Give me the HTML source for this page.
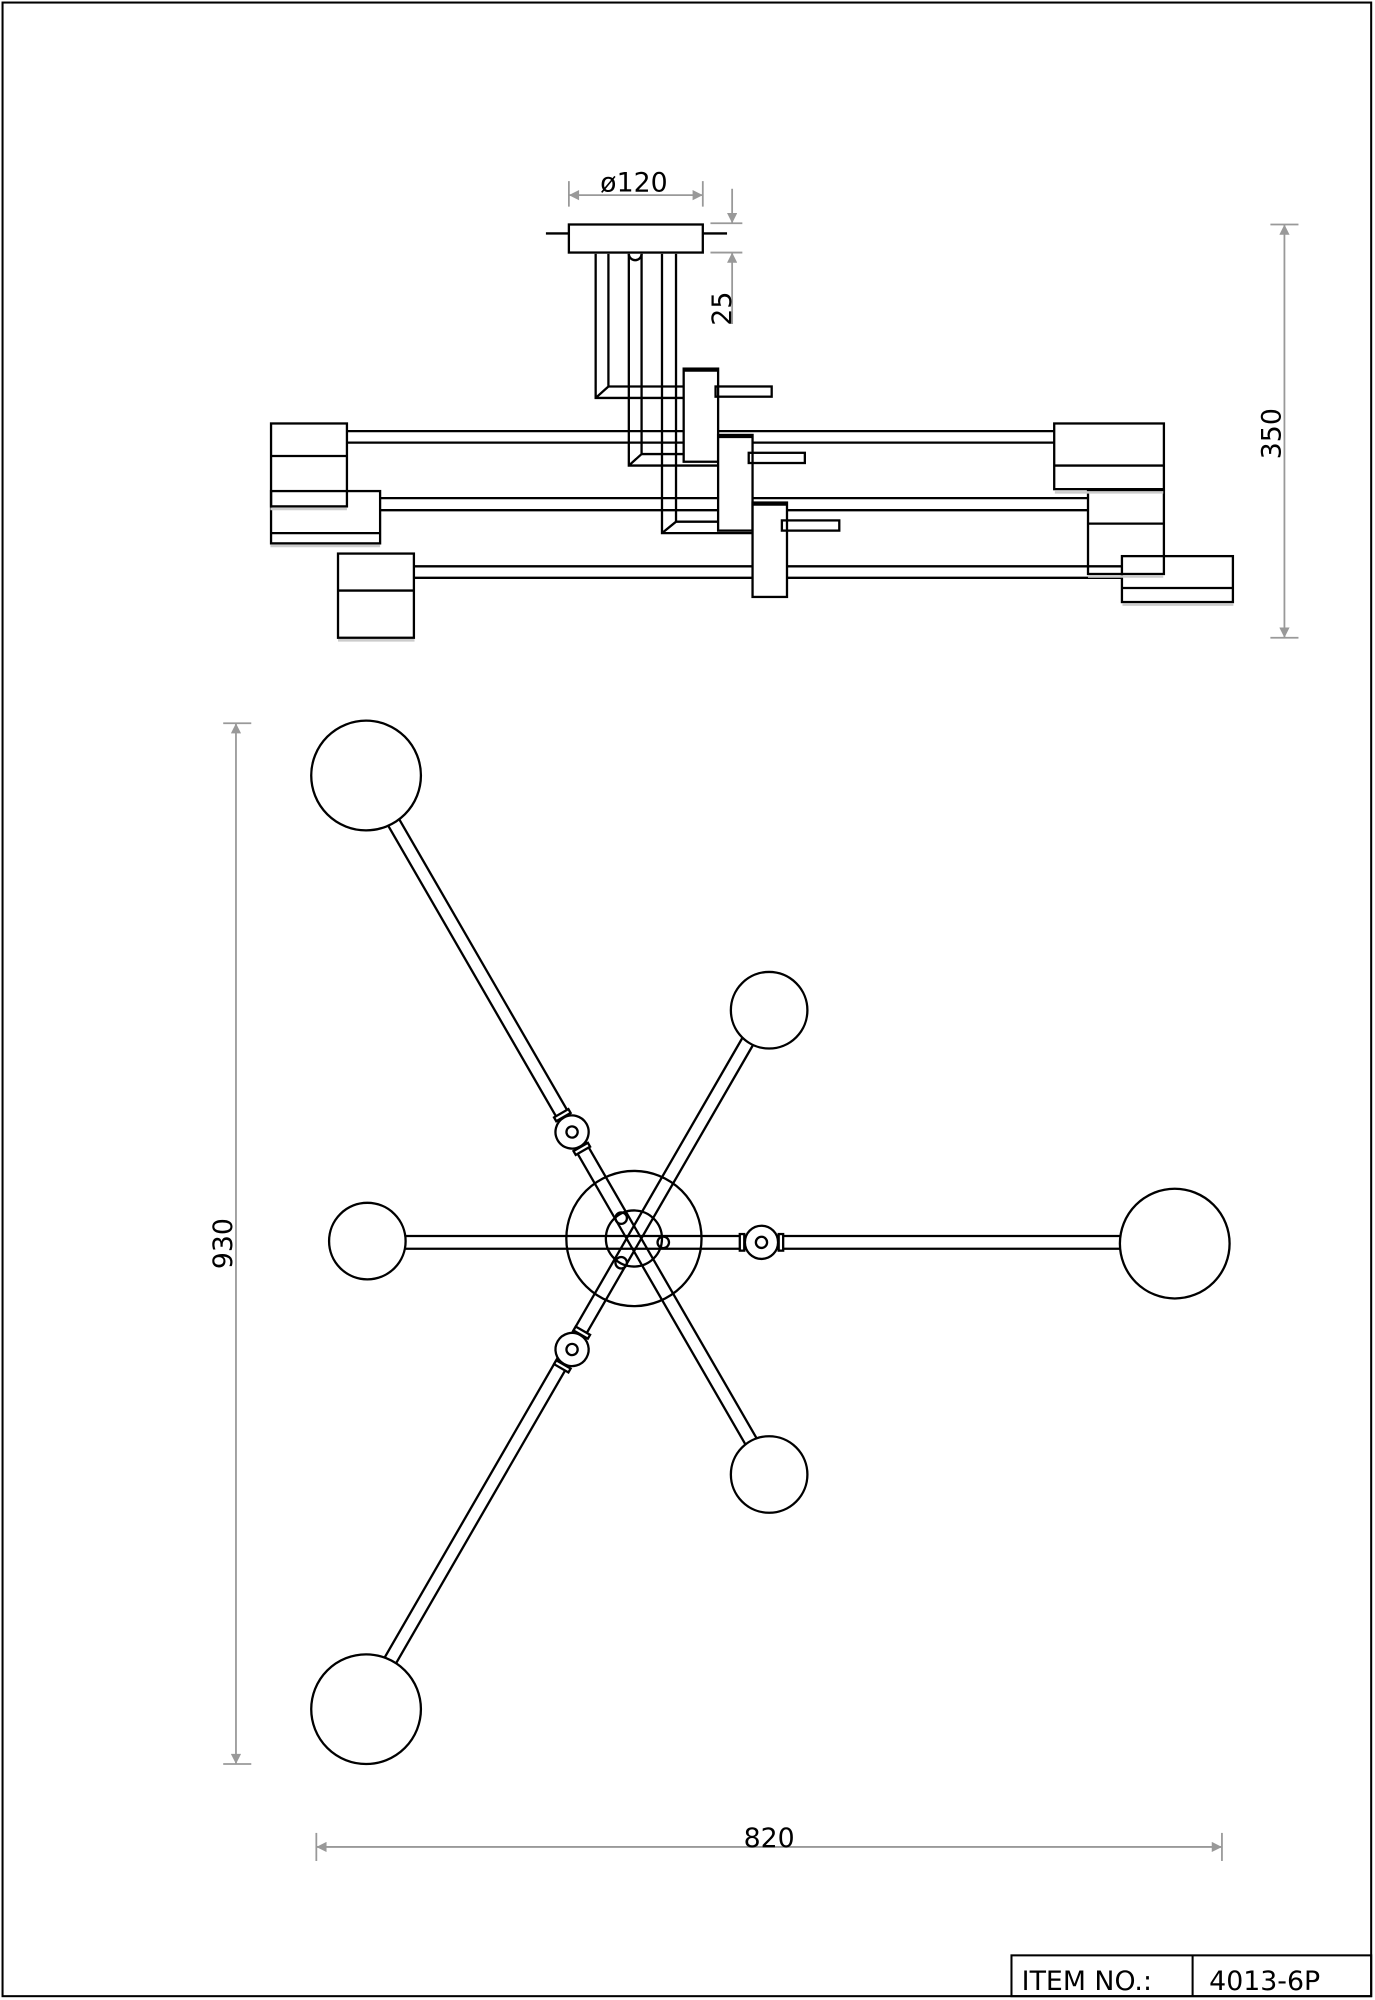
<!DOCTYPE html>
<html><head><meta charset="utf-8"><style>
html,body{margin:0;padding:0;background:#fff;}
svg{display:block;}
text{font-family:"DejaVu Sans","Liberation Sans",sans-serif;fill:#000;}
</style></head><body>
<svg width="1375" height="2000" viewBox="0 0 1078 1568" xmlns="http://www.w3.org/2000/svg">
<defs>
<marker id="ar" viewBox="0 0 10 10" refX="10" refY="5" markerWidth="14" markerHeight="8" markerUnits="userSpaceOnUse" orient="auto-start-reverse">
<path d="M0,0 L10,5 L0,10 z" fill="#999"/></marker>
</defs>
<rect x="2" y="2" width="1073" height="1563" fill="none" stroke="#000" stroke-width="1.6"/>

<!-- dimensions -->
<g stroke="#999" stroke-width="1.4" fill="none">
<line x1="446" y1="153" x2="551" y2="153" marker-start="url(#ar)" marker-end="url(#ar)"/>
<line x1="446" y1="142" x2="446" y2="162"/><line x1="551" y1="142" x2="551" y2="162"/>
<line x1="574" y1="148" x2="574" y2="175" marker-end="url(#ar)"/>
<line x1="574" y1="254" x2="574" y2="198" marker-end="url(#ar)"/>
<line x1="557" y1="175" x2="582" y2="175"/><line x1="557" y1="198" x2="582" y2="198"/>
<line x1="1007" y1="176" x2="1007" y2="500" marker-start="url(#ar)" marker-end="url(#ar)"/>
<line x1="996" y1="176" x2="1018" y2="176"/><line x1="996" y1="500" x2="1018" y2="500"/>
<line x1="185" y1="567" x2="185" y2="1383" marker-start="url(#ar)" marker-end="url(#ar)"/>
<line x1="175" y1="567" x2="197" y2="567"/><line x1="175" y1="1383" x2="197" y2="1383"/>
<line x1="248" y1="1448" x2="958" y2="1448" marker-start="url(#ar)" marker-end="url(#ar)"/>
<line x1="248" y1="1437" x2="248" y2="1459"/><line x1="958" y1="1437" x2="958" y2="1459"/>
</g>
<text x="497" y="150" font-size="21" text-anchor="middle">ø120</text>
<text transform="translate(573,242) rotate(-90)" font-size="21" text-anchor="middle">25</text>
<text transform="translate(1004,340) rotate(-90)" font-size="21" text-anchor="middle">350</text>
<text transform="translate(182,975) rotate(-90)" font-size="21" text-anchor="middle">930</text>
<text x="603" y="1448" font-size="21" text-anchor="middle">820</text>

<!-- side view -->
<g stroke="#000" stroke-width="1.8" fill="none">
<line x1="428" y1="183" x2="446" y2="183"/><line x1="551" y1="183" x2="570" y2="183"/>
<rect x="446" y="176" width="105" height="22" fill="#fff"/>
<path d="M493,199 a5,5 0 0 0 10,0"/>
<!-- arms -->
<line x1="272" y1="338" x2="827" y2="338"/><line x1="272" y1="347" x2="827" y2="347"/>
<line x1="298" y1="390.5" x2="853" y2="390.5"/><line x1="298" y1="400" x2="853" y2="400"/>
<line x1="324.5" y1="444" x2="880" y2="444"/><line x1="324.5" y1="453" x2="880" y2="453"/>
<!-- rods -->
<path d="M467,199 V312 H536 M477,199 V303 H536 M467,312 L477,303"/>
<path d="M493,199 V365 H563 M503,199 V356 H563 M493,365 L503,356"/>
<path d="M519,199 V418 H590 M530,199 V409 H590 M519,418 L530,409"/>
<!-- blocks -->
<rect x="536" y="289" width="27" height="73" fill="#fff"/>
<rect x="563" y="341" width="27" height="75" fill="#fff"/>
<rect x="590" y="394" width="27" height="74" fill="#fff"/>
<line x1="536" y1="290" x2="563" y2="290" stroke-width="3"/>
<line x1="563" y1="342" x2="590" y2="342" stroke-width="3"/>
<line x1="590" y1="395" x2="617" y2="395" stroke-width="3"/>
<rect x="561" y="303" width="44" height="8"/>
<rect x="587" y="355" width="44" height="8"/>
<rect x="613" y="408" width="45" height="8"/>
<!-- end boxes -->
<rect x="212.5" y="332" width="59.5" height="65"/><line x1="212.5" y1="357.5" x2="272" y2="357.5"/>
<rect x="212.5" y="385" width="85.5" height="41" fill="none"/><line x1="212.5" y1="418" x2="298" y2="418"/>
<rect x="265" y="434" width="59.5" height="66"/><line x1="265" y1="463" x2="324.5" y2="463"/>
<rect x="826.5" y="332" width="86" height="51.5"/><line x1="826.5" y1="365" x2="912.5" y2="365"/>
<rect x="853" y="385" width="59.5" height="65"/><line x1="853" y1="410.5" x2="912.5" y2="410.5"/>
<rect x="879.6" y="436" width="87" height="36"/><line x1="879.6" y1="461" x2="966.6" y2="461"/>
</g>
<g stroke="#ccc" stroke-width="2">
<line x1="212" y1="399" x2="272" y2="399"/><line x1="212" y1="428" x2="298" y2="428"/>
<line x1="265" y1="502" x2="325" y2="502"/><line x1="827" y1="386" x2="912" y2="386"/>
<line x1="853" y1="452" x2="912" y2="452"/><line x1="880" y1="474" x2="967" y2="474"/>
</g>

<!-- top view -->
<g stroke="#000" stroke-width="1.8" fill="none">
<g transform="translate(497,971) rotate(60)">
<line x1="-378" y1="-5" x2="186" y2="-5"/><line x1="-378" y1="5" x2="186" y2="5"/>
</g>
<g transform="translate(497,971) rotate(-60)">
<line x1="-396" y1="-5" x2="180" y2="-5"/><line x1="-396" y1="5" x2="180" y2="5"/>
</g>
<g transform="translate(497,974)">
<line x1="-182" y1="-5" x2="384" y2="-5"/><line x1="-182" y1="5" x2="384" y2="5"/>
</g>
<circle cx="497" cy="971" r="53"/>
<circle cx="497" cy="971" r="22"/>
<circle cx="487" cy="955" r="4.5"/><circle cx="487" cy="990" r="4.5"/><circle cx="520" cy="974" r="4.5"/>
<!-- joints -->
<g transform="translate(448.5,887.5) rotate(60)">
<rect x="-17" y="-6.5" width="3.5" height="13" fill="#fff"/><rect x="13.5" y="-6.5" width="3.5" height="13" fill="#fff"/>
<circle r="13" fill="#fff"/><circle r="4.4"/></g>
<g transform="translate(448.5,1058) rotate(-60)">
<rect x="-17" y="-6.5" width="3.5" height="13" fill="#fff"/><rect x="13.5" y="-6.5" width="3.5" height="13" fill="#fff"/>
<circle r="13" fill="#fff"/><circle r="4.4"/></g>
<g transform="translate(597,974)">
<rect x="-17" y="-6.5" width="3.5" height="13" fill="#fff"/><rect x="13.5" y="-6.5" width="3.5" height="13" fill="#fff"/>
<circle r="13" fill="#fff"/><circle r="4.4"/></g>
<!-- balls -->
<circle cx="287" cy="608" r="43" fill="#fff"/>
<circle cx="287" cy="1340" r="43" fill="#fff"/>
<circle cx="921" cy="975" r="43" fill="#fff"/>
<circle cx="603" cy="792" r="30" fill="#fff"/>
<circle cx="603" cy="1156" r="30" fill="#fff"/>
<circle cx="288" cy="973" r="30" fill="#fff"/>
</g>

<!-- title block -->
<g stroke="#000" stroke-width="1.6" fill="none">
<rect x="793" y="1533" width="282" height="32"/>
<line x1="935" y1="1533" x2="935" y2="1565"/>
</g>
<text x="801" y="1560" font-size="21">ITEM NO.:</text>
<text x="948" y="1560" font-size="21">4013-6P</text>
</svg>
</body></html>
